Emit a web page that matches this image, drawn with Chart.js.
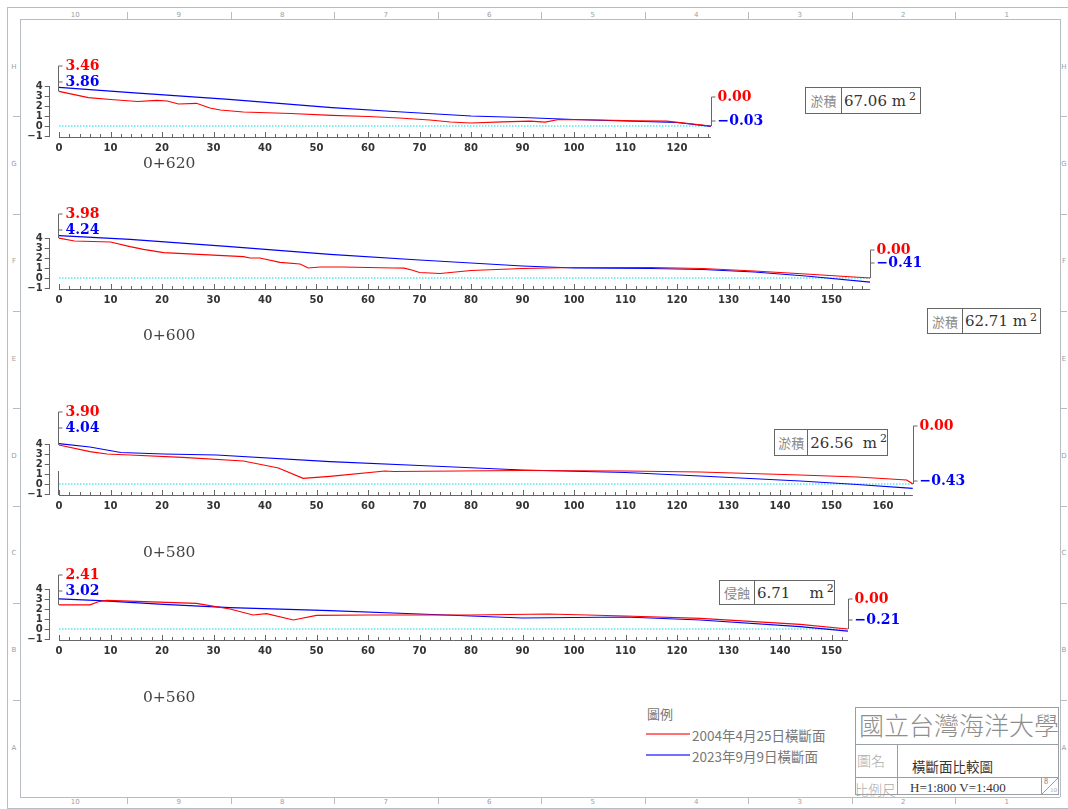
<!DOCTYPE html>
<html>
<head>
<meta charset="utf-8">
<script src="https://cdn.jsdelivr.net/npm/chart.js@4.4.0/dist/chart.umd.min.js"></script>
<style>
    body { margin: 0; width: 1068px; height: 809px; position: relative; background: #fff; overflow: hidden; font-family: "DejaVu Serif", serif; }
    .abs { position: absolute; }
    .hl { position: absolute; height: 0; border-top: 1px solid #b8bcc4; }
    .vl { position: absolute; width: 0; border-left: 1px solid #b8bcc4; }
    .fl { position: absolute; font: 7px "DejaVu Sans", sans-serif; color: #9a9ea6; transform: translate(-50%, -50%); }
    .station { position: absolute; font: 15.5px "DejaVu Serif", serif; color: #444; transform: translateY(-50%); }
    .box { position: absolute; border: 1px solid #666; display: flex; box-sizing: border-box; background: #fff; }
    .box .k { border-right: 1px solid #666; color: #888; font: 13px "Noto Sans CJK TC", sans-serif; display: flex; align-items: center; justify-content: center; box-sizing: border-box; }
    .box .v { color: #333; font: 15px "DejaVu Serif", serif; display: flex; align-items: center; padding-left: 2px; white-space: pre; }
    .box sup { font-size: 11px; position: relative; top: -4px; margin-left: 3px; }
    canvas { position: absolute; left: 0; }
    .cjk { font-family: "Noto Sans CJK TC", sans-serif; }
</style>
</head>
<body>

<div id="frame"></div>

<canvas id="c0" width="1068" height="130"></canvas>
<canvas id="c1" width="1068" height="130"></canvas>
<canvas id="c2" width="1068" height="130"></canvas>
<canvas id="c3" width="1068" height="130"></canvas>

<!-- legend -->
<div class="abs cjk" style="left:647px; top:704px; font-size:13px; color:#777;">圖例</div>
<div class="abs" style="left:646px; top:733px; width:44px; border-top:2px solid #ff7070;"></div>
<div class="abs cjk" style="left:692px; top:725px; font-size:13.5px; color:#777;">2004年4月25日橫斷面</div>
<div class="abs" style="left:646px; top:754px; width:44px; border-top:2px solid #7070ff;"></div>
<div class="abs cjk" style="left:692px; top:746px; font-size:13.5px; color:#777;">2023年9月9日橫斷面</div>

<!-- title block -->
<div class="abs" style="left:855px; top:707px; width:204px; height:88px; border:1px solid #9a9ea6; box-sizing:border-box;"></div>
<div class="hl" style="left:855px; top:744px; width:204px; border-color:#9a9ea6;"></div>
<div class="hl" style="left:855px; top:777px; width:204px; border-color:#9a9ea6;"></div>
<div class="vl" style="left:897px; top:744px; height:51px; border-color:#9a9ea6;"></div>
<div class="vl" style="left:1041px; top:777px; height:18px; border-color:#9a9ea6;"></div>
<svg class="abs" style="left:1041px; top:777px;" width="18" height="18"><line x1="0" y1="18" x2="18" y2="0" stroke="#9a9ea6" stroke-width="1"/></svg>
<div class="abs" style="left:1044px; top:777px; font:8px 'Liberation Serif',serif; color:#777;">8</div>
<div class="abs" style="left:1050px; top:786px; font:7px 'Liberation Serif',serif; color:#aaa;">10</div>
<div class="abs cjk" style="left:859px; top:706px; font-size:25px; color:#8e8e8e; font-weight:300;">國立台灣海洋大學</div>
<div class="abs cjk" style="left:857px; top:750px; font-size:14px; color:#aaa; font-weight:300;">圖名</div>
<div class="abs cjk" style="left:912px; top:756px; font-size:13.5px; color:#333;">橫斷面比較圖</div>
<div class="abs cjk" style="left:855px; top:779px; font-size:13.5px; color:#aaa; font-weight:300;">比例尺</div>
<div class="abs" style="left:910px; top:780px; font:13px 'Liberation Serif',serif; color:#333;">H=1:800 V=1:400</div>

<script>
const H_SCALE = 5.15;  // px per metre horizontally (H=1:800)
const V_SCALE = 10;    // px per metre vertically (V=1:400)

const stations = ['0+620', '0+600', '0+580', '0+560'];
const sectionEnds = [126.6, 157.5, 165.8, 153.2];
const boxKinds = ['淤積', '淤積', '淤積', '侵蝕'];
const boxAreas = ['67.06 m', '62.71 m', '26.56  m', '6.71    m'];
const yTicks = [-1, 0, 1, 2, 3, 4];

// [offset (m), elevation (m)]  -- 2004 survey
const old620 = [[0,3.46],[5.7,2.83],[10,2.65],[15.3,2.45],[19,2.57],[21,2.5],[23.2,2.2],[26.7,2.27],
    [29.3,1.8],[31.3,1.6],[35.8,1.4],[45,1.25],[53,1.07],[60,0.95],[66,0.8],[72,0.6],[76,0.4],[80,0.3],
    [86,0.42],[91.5,0.48],[94.4,0.38],[97,0.65],[105,0.6],[112,0.52],[118,0.48],[126.6,0.0]];
const old600 = [[0,3.98],[3,3.7],[10,3.6],[13.8,3.13],[16.4,2.87],[20.3,2.53],[35.8,2.13],[37.1,2.0],
    [39,2.0],[42.9,1.57],[46.8,1.4],[48.4,1.0],[50.7,1.1],[55,1.1],[65,1.0],[67,0.98],[68.5,0.8],[70,0.55],
    [74,0.45],[80,0.75],[90,0.95],[100,1.05],[115,1.05],[125,0.95],[135,0.7],[145,0.4],[157.5,0.0]];
const old580 = [[0,3.90],[6,3.23],[9.3,3.0],[13.8,2.9],[24,2.67],[35.8,2.3],[39.7,1.9],[42.6,1.6],
    [47.4,0.57],[52.6,0.77],[63.3,1.3],[65,1.25],[90,1.35],[110,1.3],[124.5,1.2],[143.9,0.9],[155,0.7],
    [164.6,0.4],[165.8,0.0]];
const old560 = [[0,2.41],[6,2.41],[7.9,2.77],[9.3,2.87],[26.7,2.57],[33.2,2.0],[37.7,1.4],[40.3,1.53],
    [45.5,0.9],[50,1.37],[60,1.4],[80,1.4],[95,1.5],[110,1.3],[124.5,1.07],[143.9,0.47],[153.2,0.0]];

// 2023 survey
const new620 = [[0,3.86],[14,3.33],[33,2.67],[53,1.83],[65,1.45],[80,1.0],[90,0.85],[100,0.65],
    [110,0.5],[120,0.35],[126.6,-0.03]];
const new600 = [[0,4.24],[13.8,3.87],[33.2,3.13],[52.6,2.37],[70,1.8],[90,1.2],[100,1.0],[115,0.95],
    [125,0.85],[135,0.6],[145,0.2],[157.5,-0.41]];
const new580 = [[0,4.04],[6,3.7],[12,3.15],[20.3,3.0],[30.6,2.9],[52.6,2.23],[70,1.85],[90,1.4],
    [110,1.15],[124.5,0.8],[143.9,0.3],[155,-0.05],[165.8,-0.43]];
const new560 = [[0,3.02],[8,2.83],[20.3,2.47],[33.2,2.13],[52.6,1.83],[70,1.5],[90,1.1],[110,1.2],
    [124.5,0.9],[143.9,0.23],[153.2,-0.21]];

const oldSeries = [old620, old600, old580, old560];
const newSeries = [new620, new600, new580, new560];

// page layout of each section (pixels)
const panelLayout = [
    { y0: 126, redLabelY: 66,  blueLabelY: 82,  endRedY: 97,  endBlueY: 121, box: [805, 87, 116, 27, 36],  stationY: 163 },
    { y0: 278, redLabelY: 214, blueLabelY: 230, endRedY: 250, endBlueY: 263, box: [927, 308, 114, 26, 35], stationY: 335 },
    { y0: 484, redLabelY: 412, blueLabelY: 428, endRedY: 426, endBlueY: 481, box: [774, 429, 114, 27, 36], stationY: 552, stub: true },
    { y0: 629, redLabelY: 575, blueLabelY: 591, endRedY: 599, endBlueY: 620, box: [719, 580, 116, 25, 35], stationY: 697 }
];

const CANVAS_TOP = 95;   // canvas top sits this far above the zero line
const PAD_TOP = 15;
const X_MIN = -2;
const Y_MIN = -1.1;
const AXIS_COLOR = '#666';

function fmt(v) {
    return (v < 0 ? '\u2212' : '') + Math.abs(v).toFixed(2);
}

// leaders, value labels and ruler ticks for one section
const sectionDeco = {
    id: 'sectionDeco',
    afterDraw(chart, args, opts) {
        const ctx = chart.ctx;
        const xs = chart.scales.x, ys = chart.scales.y;
        const top = opts.y0 - CANVAS_TOP;
        const end = opts.end;
        const x0 = xs.getPixelForValue(0);
        const xe = xs.getPixelForValue(end);
        const yb = ys.getPixelForValue(Y_MIN);

        ctx.save();
        ctx.strokeStyle = AXIS_COLOR;
        ctx.lineWidth = 1;

        // x axis with ruler ticks
        ctx.beginPath();
        ctx.moveTo(x0, yb + 0.5);
        ctx.lineTo(xe, yb + 0.5);
        for (let v = 0; v <= end; v += 2) {
            const px = Math.round(xs.getPixelForValue(v)) + 0.5;
            const len = v % 10 === 0 ? 5 : 3;
            ctx.moveTo(px, yb + 0.5);
            ctx.lineTo(px, yb - len);
        }
        // y axis line
        const ax = Math.round(chart.chartArea.left) + 0.5;
        ctx.moveTo(ax, yb);
        ctx.lineTo(ax, ys.getPixelForValue(4));
        ctx.stroke();

        const sx = Math.round(x0) - 0.5;
        // short stray leader seen in one section
        if (opts.stub) {
            ctx.beginPath();
            ctx.moveTo(sx, ys.getPixelForValue(1.3));
            ctx.lineTo(sx, yb);
            ctx.stroke();
        }

        // start leader
        const redStart = opts.old[0][1], blueStart = opts.neu[0][1];
        ctx.beginPath();
        ctx.moveTo(sx, ys.getPixelForValue(redStart));
        ctx.lineTo(sx, opts.redLabelY - top);
        ctx.lineTo(sx + 4, opts.redLabelY - top);
        ctx.moveTo(sx, opts.blueLabelY - top);
        ctx.lineTo(sx + 4, opts.blueLabelY - top);
        ctx.stroke();

        // end leader
        const ex = Math.round(xe) + 0.5;
        const redEnd = opts.old[opts.old.length - 1][1], blueEnd = opts.neu[opts.neu.length - 1][1];
        ctx.beginPath();
        ctx.moveTo(ex, ys.getPixelForValue(redEnd));
        ctx.lineTo(ex, opts.endRedY - top);
        ctx.lineTo(ex + 4, opts.endRedY - top);
        ctx.moveTo(ex, opts.endBlueY - top);
        ctx.lineTo(ex + 4, opts.endBlueY - top);
        ctx.stroke();

        ctx.font = 'bold 14px "DejaVu Serif", serif';
        ctx.textBaseline = 'middle';
        ctx.textAlign = 'left';
        ctx.fillStyle = '#ff0000';
        ctx.fillText(fmt(redStart), sx + 7, opts.redLabelY - top);
        ctx.fillText(fmt(redEnd), ex + 6, opts.endRedY - top);
        ctx.fillStyle = '#0000ff';
        ctx.fillText(fmt(blueStart), sx + 7, opts.blueLabelY - top);
        ctx.fillText(fmt(blueEnd), ex + 6, opts.endBlueY - top);
        ctx.restore();
    }
};

function toPoints(arr) {
    return arr.map(([x, y]) => ({ x, y }));
}

function buildSection(i) {
    const lay = panelLayout[i];
    const end = sectionEnds[i];
    const canvas = document.getElementById('c' + i);
    canvas.style.top = (lay.y0 - CANVAS_TOP) + 'px';

    const left = 59 + X_MIN * H_SCALE;
    const right = 59 + end * H_SCALE;
    const yMax = (CANVAS_TOP - PAD_TOP) / V_SCALE;
    const axisHeight = canvas.height - CANVAS_TOP - (-Y_MIN * V_SCALE);

    new Chart(canvas.getContext('2d'), {
        type: 'line',
        data: {
            datasets: [
                { data: toPoints(oldSeries[i]), borderColor: '#ff0000', borderWidth: 1.2 },
                { data: toPoints(newSeries[i]), borderColor: '#0000ff', borderWidth: 1.2 },
                { data: [{ x: 0, y: 0 }, { x: end, y: 0 }], borderColor: '#00dbe8', borderWidth: 1, borderDash: [1.5, 1.5] }
            ]
        },
        options: {
            responsive: false,
            animation: false,
            devicePixelRatio: 1,
            layout: { padding: { left: 0, right: canvas.width - right, top: PAD_TOP, bottom: 0 } },
            elements: { point: { radius: 0 }, line: { tension: 0 } },
            plugins: {
                legend: { display: false },
                tooltip: { enabled: false },
                sectionDeco: Object.assign({ end, old: oldSeries[i], neu: newSeries[i] }, lay)
            },
            scales: {
                x: {
                    type: 'linear', min: X_MIN, max: end,
                    afterFit: s => { s.height = axisHeight; },
                    afterBuildTicks: s => {
                        const t = [];
                        for (let v = 0; v <= end; v += 2) t.push({ value: v });
                        s.ticks = t;
                    },
                    grid: { display: false, drawTicks: false },
                    border: { display: false },
                    ticks: {
                        autoSkip: false, maxRotation: 0, padding: 5,
                        color: '#333', font: { family: 'DejaVu Sans', size: 10, weight: 'bold' },
                        callback: v => (v % 10 === 0 ? v : '')
                    }
                },
                y: {
                    type: 'linear', min: Y_MIN, max: yMax,
                    afterFit: s => { s.width = left; },
                    afterBuildTicks: s => { s.ticks = yTicks.map(v => ({ value: v })); },
                    grid: { drawOnChartArea: false, drawTicks: true, tickLength: 4, color: AXIS_COLOR },
                    border: { display: false },
                    ticks: {
                        autoSkip: false, padding: 2,
                        color: '#333', font: { family: 'DejaVu Sans', size: 10, weight: 'bold' },
                        callback: v => (v < 0 ? '\u2212' + Math.abs(v) : v)
                    }
                }
            }
        },
        plugins: [sectionDeco]
    });

    // station name
    const st = document.createElement('div');
    st.className = 'station';
    st.style.left = '143px';
    st.style.top = lay.stationY + 'px';
    st.textContent = stations[i];
    document.body.appendChild(st);

    // area box
    const [bx, by, bw, bh, kw] = lay.box;
    const box = document.createElement('div');
    box.className = 'box';
    box.style.left = bx + 'px';
    box.style.top = by + 'px';
    box.style.width = bw + 'px';
    box.style.height = bh + 'px';
    box.innerHTML = `<div class="k" style="width:${kw}px">${boxKinds[i]}</div><div class="v">${boxAreas[i]}<sup>2</sup></div>`;
    document.body.appendChild(box);
}

for (let i = 0; i < 4; i++) buildSection(i);

// drawing frame
function drawFrame() {
    const f = document.getElementById('frame');
    let html = '';
    html += '<div class="hl" style="left:7px;top:7px;width:1061px"></div>';
    html += '<div class="hl" style="left:20px;top:19px;width:1040px"></div>';
    html += '<div class="hl" style="left:20px;top:797px;width:1040px"></div>';
    html += '<div class="hl" style="left:7px;top:808px;width:1061px"></div>';
    html += '<div class="vl" style="left:7px;top:7px;height:801px"></div>';
    html += '<div class="vl" style="left:20px;top:19px;height:778px"></div>';
    html += '<div class="vl" style="left:1060px;top:19px;height:778px"></div>';
    const cols = ['10', '9', '8', '7', '6', '5', '4', '3', '2', '1'];
    cols.forEach((c, k) => {
        const cx = 23.5 + 103.5 * (k + 0.5);
        html += `<div class="fl" style="left:${cx}px;top:15px">${c}</div>`;
        html += `<div class="fl" style="left:${cx}px;top:802px">${c}</div>`;
        if (k > 0) {
            const tx = 23.5 + 103.5 * k;
            html += `<div class="vl" style="left:${tx}px;top:12px;height:7px"></div>`;
            html += `<div class="vl" style="left:${tx}px;top:797px;height:7px"></div>`;
        }
    });
    const rows = ['H', 'G', 'F', 'E', 'D', 'C', 'B', 'A'];
    rows.forEach((r, k) => {
        const cy = 19 + 97.3 * (k + 0.5) - 1;
        html += `<div class="fl" style="left:14px;top:${cy}px">${r}</div>`;
        html += `<div class="fl" style="left:1064px;top:${cy}px">${r}</div>`;
        if (k > 0) {
            const ty = 19 + 97.3 * k;
            html += `<div class="hl" style="left:13px;top:${ty}px;width:7px"></div>`;
            html += `<div class="hl" style="left:1060px;top:${ty}px;width:7px"></div>`;
        }
    });
    f.innerHTML = html;
}
drawFrame();
</script>
</body>
</html>
